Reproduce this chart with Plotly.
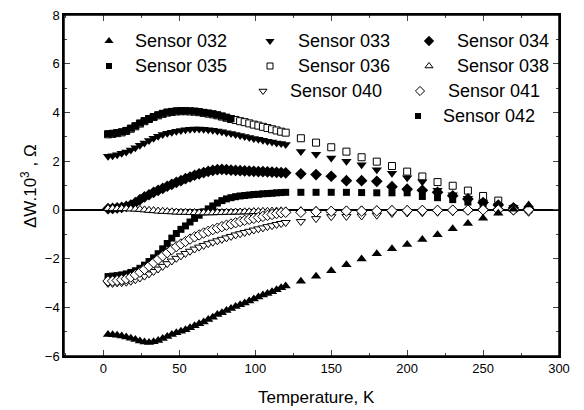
import plotly.graph_objects as go

# ---------------- data ----------------
T_dense = [3, 6, 9, 12, 15, 18, 21, 24, 27, 30, 33, 36, 39, 42, 45, 48, 51, 54, 57, 60,
           63, 66, 69, 72, 75, 78, 81, 84, 87, 90, 93, 96, 99, 102, 105, 108, 111, 114, 117, 120]
T_sparse = [130, 140, 150, 160, 170, 180, 190, 200, 210, 220, 230, 240, 250, 260, 270, 280]
temps = T_dense + T_sparse

s032 = [-5.12, -5.13, -5.15, -5.18, -5.22, -5.27, -5.32, -5.38, -5.43, -5.45, -5.42, -5.36, -5.28, -5.2,
        -5.12, -5.05, -4.98, -4.92, -4.84, -4.76, -4.68, -4.6, -4.5, -4.41, -4.3, -4.22, -4.13, -4.05,
        -3.97, -3.9, -3.82, -3.74, -3.66, -3.58, -3.5, -3.43, -3.36, -3.28, -3.2, -3.13,
        -2.93, -2.73, -2.5, -2.25, -2.02, -1.8, -1.6, -1.42, -1.22, -1.02, -0.78, -0.56, -0.34, -0.14, 0.02, 0.2]
s033 = [2.2, 2.22, 2.26, 2.32, 2.38, 2.46, 2.55, 2.65, 2.75, 2.85, 2.94, 3.02, 3.09, 3.15, 3.19, 3.23,
        3.26, 3.29, 3.31, 3.32, 3.32, 3.31, 3.29, 3.27, 3.24, 3.21, 3.17, 3.13, 3.09, 3.05, 3.01, 2.97,
        2.93, 2.9, 2.86, 2.82, 2.79, 2.75, 2.72, 2.68,
        2.4, 2.28, 2.13, 2.0, 1.85, 1.65, 1.5, 1.32, 1.15, 0.8, 0.62, 0.48, 0.32, 0.18, 0.1, 0.05]
s034 = [0.05, 0.06, 0.08, 0.1, 0.14, 0.2, 0.3, 0.42, 0.53, 0.62, 0.72, 0.8, 0.88, 0.97, 1.05, 1.13,
        1.2, 1.28, 1.35, 1.42, 1.48, 1.53, 1.58, 1.62, 1.65, 1.66, 1.65, 1.63, 1.62, 1.61, 1.6, 1.59,
        1.58, 1.57, 1.57, 1.56, 1.55, 1.54, 1.53, 1.52,
        1.48, 1.45, 1.38, 1.2, 1.2, 1.17, 0.95, 0.85, 0.8, 0.72, 0.58, 0.45, 0.3, 0.2, 0.08, 0.05]
s035 = [-2.74, -2.72, -2.7, -2.67, -2.63, -2.57, -2.5, -2.4, -2.27, -2.12, -1.97, -1.8, -1.6, -1.38,
        -1.16, -0.97, -0.8, -0.66, -0.5, -0.35, -0.22, -0.08, 0.04, 0.16, 0.28, 0.38, 0.45, 0.5, 0.54,
        0.57, 0.59, 0.61, 0.63, 0.64, 0.66, 0.67, 0.68, 0.7, 0.71, 0.72,
        0.72, 0.72, 0.72, 0.72, 0.71, 0.7, 0.7, 0.7, 0.55, 0.5, 0.42, 0.32, 0.2, 0.12, None, None]
s036 = [3.1, 3.12, 3.15, 3.18, 3.24, 3.33, 3.43, 3.54, 3.64, 3.73, 3.81, 3.88, 3.94, 3.99, 4.02, 4.04,
        4.05, 4.05, 4.04, 4.03, 4.01, 3.98, 3.95, 3.92, 3.88, 3.83, 3.78, 3.73, 3.69, 3.64, 3.6, 3.55,
        3.5, 3.46, 3.41, 3.36, 3.31, 3.26, 3.21, 3.17,
        2.94, 2.76, 2.57, 2.39, 2.16, 1.98, 1.8, 1.57, 1.37, 1.14, 0.99, 0.79, 0.57, 0.38, 0.05, 0.02]
s038 = [0.06, 0.06, 0.05, 0.06, 0.05, 0.04, 0.03, 0.02, 0.0, -0.02, -0.03, -0.05, -0.06, -0.07, -0.08,
        -0.09, -0.1, -0.1, -0.11, -0.11, -0.12, -0.12, -0.12, -0.12, -0.11, -0.11, -0.1, -0.1, -0.09,
        -0.09, -0.08, -0.08, -0.07, -0.07, -0.06, -0.06, -0.05, -0.05, -0.04, -0.04,
        -0.03, -0.02, -0.02, -0.01, 0.0, 0.0, 0.01, 0.01, 0.02, 0.02, 0.03, 0.03, 0.04, 0.05, 0.05, 0.08]
s040 = [-3.02, -3.02, -3.0, -2.99, -2.97, -2.93, -2.87, -2.8, -2.72, -2.63, -2.53, -2.43, -2.32, -2.21,
        -2.1, -1.99, -1.89, -1.79, -1.7, -1.61, -1.53, -1.46, -1.39, -1.33, -1.27, -1.21, -1.15, -1.09,
        -1.03, -0.98, -0.93, -0.88, -0.83, -0.78, -0.74, -0.69, -0.65, -0.6, -0.56, -0.52,
        -0.48, -0.36, -0.28, -0.27, -0.25, -0.22, -0.15, -0.13, -0.12, -0.1, -0.08, -0.05, -0.03, -0.02, -0.05, -0.1]
s041 = [-2.92, -2.92, -2.9, -2.87, -2.83, -2.76, -2.67, -2.56, -2.44, -2.31, -2.17, -2.03, -1.89, -1.76,
        -1.63, -1.51, -1.4, -1.3, -1.2, -1.11, -1.03, -0.95, -0.88, -0.81, -0.75, -0.69, -0.63, -0.58,
        -0.53, -0.48, -0.43, -0.39, -0.35, -0.31, -0.27, -0.23, -0.19, -0.15, -0.12, -0.1,
        -0.1, -0.08, -0.06, -0.05, -0.05, -0.04, -0.03, -0.03, -0.02, -0.02, -0.01, -0.01, 0.0, 0.0, 0.0, 0.0]
s042 = [3.12, 3.14, 3.17, 3.2, 3.26, 3.35, 3.45, 3.56, 3.66, 3.75, 3.83, 3.9, 3.96, 4.01, 4.04, 4.06,
        4.07, 4.07, 4.06, 4.05, 4.03, 4.0, 3.97, 3.94, 3.9, 3.85, 3.8, 3.74] + [None] * 28

names = ["Sensor 032", "Sensor 033", "Sensor 034", "Sensor 035", "Sensor 036",
         "Sensor 038", "Sensor 040", "Sensor 041", "Sensor 042"]
values = [s032, s033, s034, s035, s036, s038, s040, s041, s042]

# ---------------- style ----------------
FONT = "Liberation Sans, Arial, sans-serif"
X_RANGE = [-26, 300]
Y_RANGE = [-6, 8]
L, R, T, B = 64, 559, 15, 356          # plot-area pixel box

styles = {
    "Sensor 032": dict(symbol="triangle-up", size=9, fill="black"),
    "Sensor 033": dict(symbol="triangle-down", size=9, fill="black"),
    "Sensor 034": dict(symbol="diamond", size=9, fill="black"),
    "Sensor 035": dict(symbol="square", size=7, fill="black"),
    "Sensor 036": dict(symbol="square", size=7, fill="white"),
    "Sensor 038": dict(symbol="triangle-up", size=8, fill="white"),
    "Sensor 040": dict(symbol="triangle-down", size=8, fill="white"),
    "Sensor 041": dict(symbol="diamond", size=8, fill="white"),
    "Sensor 042": dict(symbol="square", size=7, fill="black"),
}
draw_order = ["Sensor 036", "Sensor 033", "Sensor 034", "Sensor 035", "Sensor 038",
              "Sensor 040", "Sensor 041", "Sensor 042", "Sensor 032"]
# legend layout in pixel space: (marker x, text x, y)
legend_pos = {
    "Sensor 032": (109, 133, 41), "Sensor 033": (270, 296, 41), "Sensor 034": (429, 455, 41),
    "Sensor 035": (109, 133, 66), "Sensor 036": (270, 296, 66), "Sensor 038": (429, 455, 66),
    "Sensor 040": (263, 288, 91), "Sensor 041": (420, 446, 91),
    "Sensor 042": (418, 441, 116),
}


def px_to_data(px, py):
    xd = X_RANGE[0] + (px - L) / (R - L) * (X_RANGE[1] - X_RANGE[0])
    yd = Y_RANGE[0] + (B - py) / (B - T) * (Y_RANGE[1] - Y_RANGE[0])
    return xd, yd


def px_to_paper(px, py):
    return (px - L) / (R - L), (B - py) / (B - T)


def marker_style(st, shrink=0):
    return dict(symbol=st["symbol"], size=st["size"] - shrink, color=st["fill"],
                line=dict(color="black", width=1 if st["fill"] == "white" else 0))


fig = go.Figure()
lookup = dict(zip(names, values))
for nm in draw_order:
    fig.add_trace(go.Scatter(x=temps, y=lookup[nm], mode="markers", name=nm,
                             showlegend=False, marker=marker_style(styles[nm])))

annotations = []
for nm in names:
    mx, tx, ty = legend_pos[nm]
    lx, ly = px_to_data(mx, ty)
    fig.add_trace(go.Scatter(x=[lx], y=[ly], mode="markers", showlegend=False,
                             hoverinfo="skip", marker=marker_style(styles[nm], 1)))
    ax, ay = px_to_paper(tx, ty)
    annotations.append(dict(x=ax, y=ay, xref="paper", yref="paper", text=nm, showarrow=False,
                            xanchor="left", yanchor="middle",
                            font=dict(family=FONT, size=18, color="black")))

tx, ty = px_to_paper(29, 186)
annotations.append(dict(x=tx, y=ty, xref="paper", yref="paper",
                        text="ΔW.10<sup>3</sup> , Ω", textangle=-90, showarrow=False,
                        xanchor="center", yanchor="middle",
                        font=dict(family=FONT, size=17, color="black")))
tx, ty = px_to_paper((L + R) / 2 + 5, 398)
annotations.append(dict(x=tx, y=ty, xref="paper", yref="paper",
                        text="Temperature, K", showarrow=False,
                        xanchor="center", yanchor="middle",
                        font=dict(family=FONT, size=17, color="black")))

fig.update_layout(
    width=584, height=410, autosize=False,
    margin=dict(l=L, r=584 - R, t=T, b=410 - B, pad=0),
    paper_bgcolor="white", plot_bgcolor="white",
    font=dict(family=FONT, size=13, color="black"),
    annotations=annotations,
    shapes=[dict(type="rect", xref="paper", yref="paper", x0=0, x1=1, y0=0, y1=1,
                 line=dict(color="black", width=1.5), fillcolor="rgba(0,0,0,0)", layer="above")],
    xaxis=dict(range=X_RANGE, dtick=50, tick0=0, ticks="inside", ticklen=6, tickwidth=1,
               minor=dict(dtick=25, ticks="inside", ticklen=3, tickwidth=1),
               showline=True, linecolor="black", linewidth=1.5, mirror="ticks",
               showgrid=False, zeroline=False, automargin=False,
               tickfont=dict(size=13)),
    yaxis=dict(range=Y_RANGE, dtick=2, tick0=0, ticks="inside", ticklen=6, tickwidth=1,
               minor=dict(dtick=1, ticks="inside", ticklen=3, tickwidth=1),
               showline=True, linecolor="black", linewidth=1.5, mirror="ticks",
               showgrid=False, zeroline=True, zerolinecolor="black", zerolinewidth=1.5,
               automargin=False, tickfont=dict(size=13)),
)

fig.write_html("out.html", config={"displayModeBar": False},
               post_script="document.body.style.margin='0';document.body.style.padding='0';")
